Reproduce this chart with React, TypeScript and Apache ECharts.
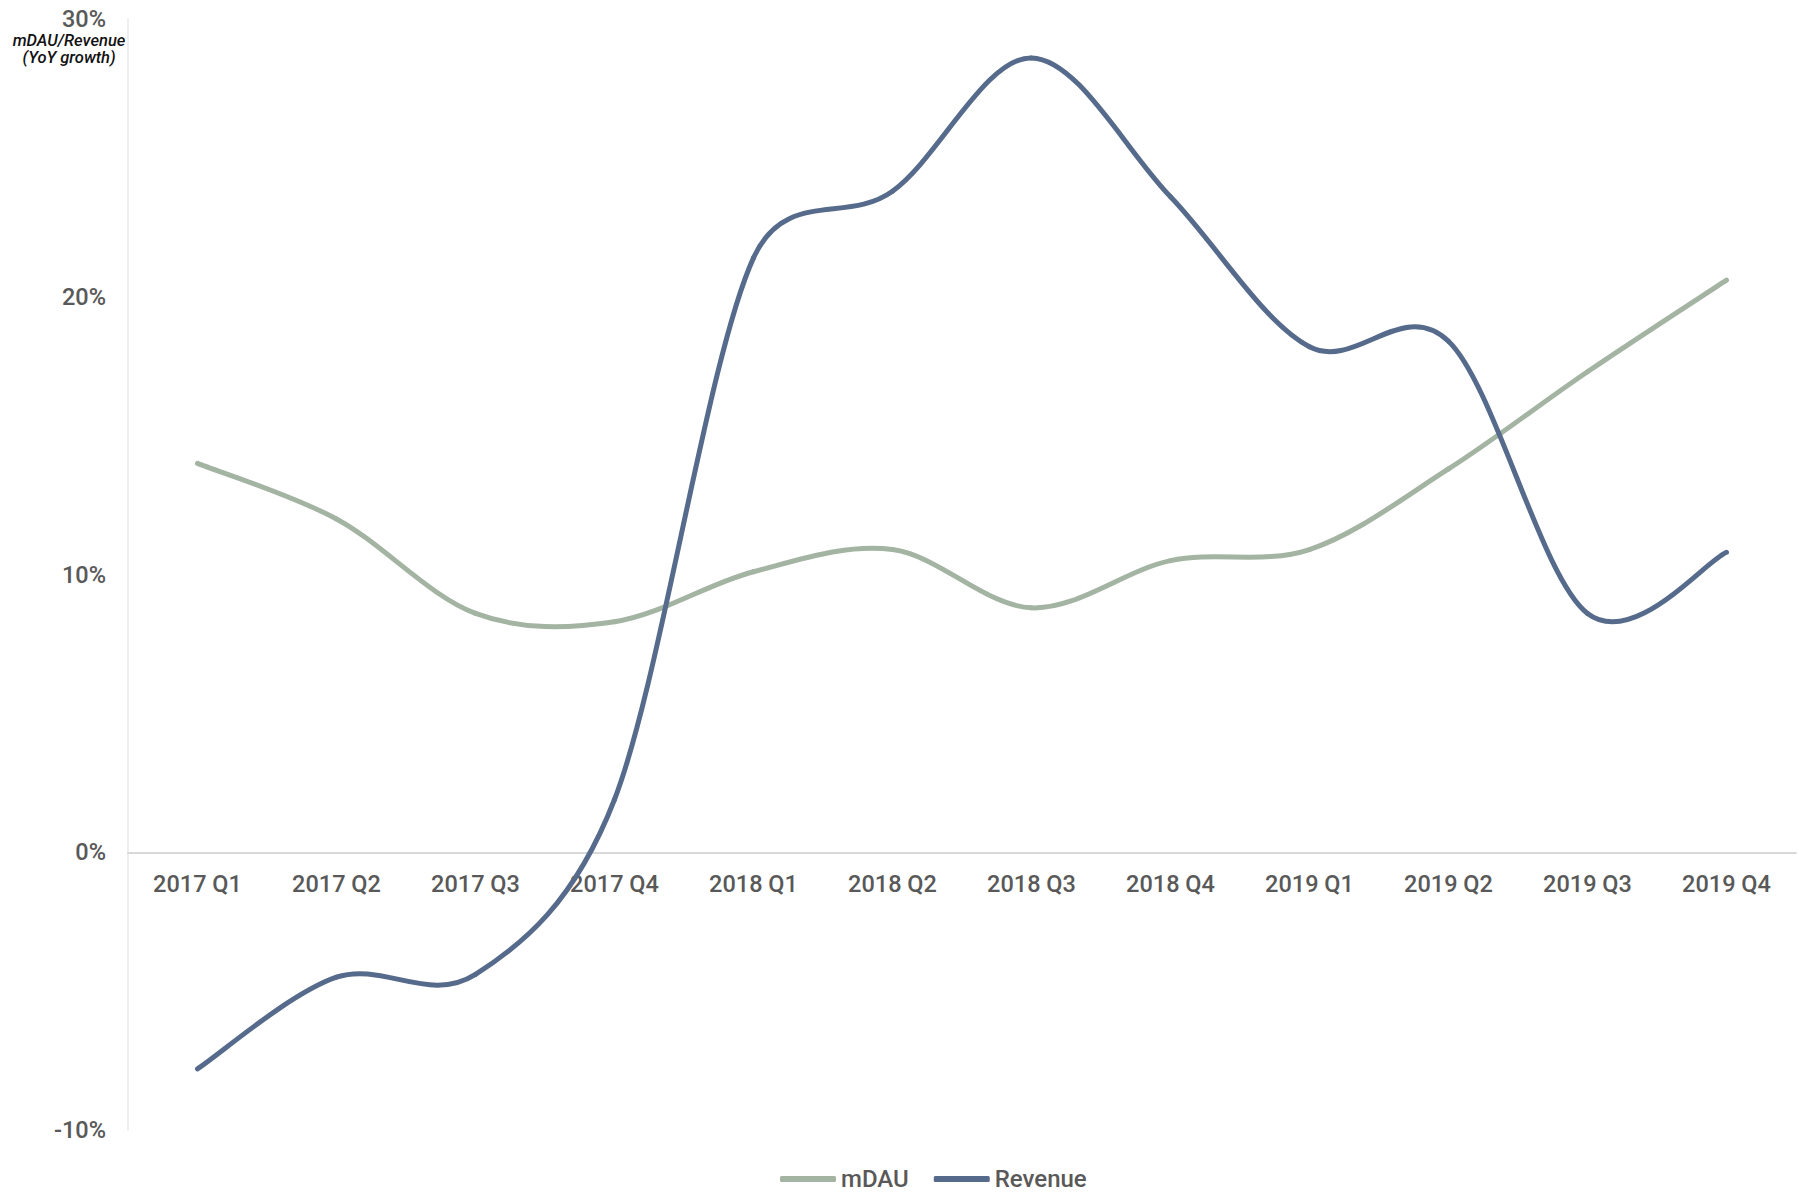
import React, { useEffect, useRef } from "react";
import * as echarts from "echarts";

const categories = [
  "2017 Q1", "2017 Q2", "2017 Q3", "2017 Q4",
  "2018 Q1", "2018 Q2", "2018 Q3", "2018 Q4",
  "2019 Q1", "2019 Q2", "2019 Q3", "2019 Q4",
];
const mdauGrowth = [14.0, 12.0, 8.6, 8.3, 10.1, 10.9, 8.8, 10.5, 10.9, 13.8, 17.3, 20.6];
const revenueGrowth = [-7.8, -4.5, -4.4, 1.9, 21.4, 23.8, 28.6, 23.6, 18.2, 18.4, 8.6, 10.8];
const seriesNames = ["mDAU", "Revenue"];
const seriesColors = ["#a4b4a2", "#566b8c"];
const yMin = -10;
const yMax = 30;
const yStep = 10;
const axisTitle = "mDAU/Revenue\n(YoY growth)";

// Spreadsheet-style smoothed line through the data points, drawn from the
// axis coordinates of each point (control arms limited to half a segment).
function makeRenderItem(values: number[], color: string) {
  const n = values.length;
  const clamp = (j: number) => Math.max(0, Math.min(n - 1, j));
  const arm = (a: number[], b: number[], segLen: number) => {
    let dx = (b[0] - a[0]) / 6;
    let dy = (b[1] - a[1]) / 6;
    const len = Math.hypot(dx, dy);
    if (len > segLen / 2 && len > 0) {
      const k = segLen / 2 / len;
      dx *= k;
      dy *= k;
    }
    return [dx, dy];
  };
  return (params: any, api: any) => {
    const i = params.dataIndex;
    if (i >= n - 1) return null;
    const pt = (j: number) => api.coord([clamp(j), values[clamp(j)]]);
    const p0 = pt(i - 1);
    const p1 = pt(i);
    const p2 = pt(i + 1);
    const p3 = pt(i + 2);
    const seg = Math.hypot(p2[0] - p1[0], p2[1] - p1[1]);
    const a1 = arm(p0, p2, seg);
    const a2 = arm(p1, p3, seg);
    return {
      type: "bezierCurve",
      shape: {
        x1: p1[0],
        y1: p1[1],
        cpx1: p1[0] + a1[0],
        cpy1: p1[1] + a1[1],
        cpx2: p2[0] - a2[0],
        cpy2: p2[1] - a2[1],
        x2: p2[0],
        y2: p2[1],
      },
      style: { fill: "none", stroke: color, lineWidth: 5, lineCap: "round" },
    };
  };
}

export default function App() {
  const ref = useRef<HTMLDivElement>(null);
  useEffect(() => {
    if (!ref.current) return;
    const chart = echarts.init(ref.current, null, { renderer: "svg" });
    const labelStyle = {
      color: "#595959",
      fontSize: 23.5,
      fontFamily: "Roboto",
      fontWeight: 500,
    };
    const gridTop = 19;
    const gridBottom = 62;
    const plotHeight = 1192 - gridTop - gridBottom;
    const zeroOffset = -plotHeight * ((0 - yMin) / (yMax - yMin));
    chart.setOption({
      animation: false,
      backgroundColor: "#ffffff",
      grid: { left: 128, right: 3, top: gridTop, bottom: gridBottom, containLabel: false },
      legend: {
        data: seriesNames,
        left: 780,
        top: 1167,
        padding: 0,
        icon: "roundRect",
        itemWidth: 56,
        itemHeight: 6,
        itemGap: 25,
        textStyle: { ...labelStyle, fontSize: 24, lineHeight: 22, padding: [0, 0, 0, 0] },
      },
      graphic: [
        {
          type: "text",
          x: 69,
          y: 32,
          style: {
            text: axisTitle,
            textAlign: "center",
            textVerticalAlign: "top",
            fill: "#111111",
            fontSize: 16.5,
            lineHeight: 17,
            fontStyle: "italic",
            fontWeight: 500,
            fontFamily: "Roboto",
          },
        },
      ],
      xAxis: {
        type: "category",
        data: categories,
        boundaryGap: true,
        offset: zeroOffset,
        axisLine: { show: true, onZero: false, lineStyle: { color: "#d9d9d9", width: 2 } },
        axisTick: { show: false },
        axisLabel: { ...labelStyle, margin: 20, interval: 0 },
        splitLine: { show: false },
      },
      yAxis: {
        type: "value",
        min: yMin,
        max: yMax,
        interval: yStep,
        axisLine: { show: true, lineStyle: { color: "#efefef", width: 2 } },
        axisTick: { show: false },
        splitLine: { show: false },
        axisLabel: { ...labelStyle, margin: 22, formatter: "{value}%" },
      },
      series: [
        {
          name: seriesNames[0],
          type: "custom",
          coordinateSystem: "cartesian2d",
          data: mdauGrowth.map((v, i) => [i, v]),
          encode: { x: 0, y: 1 },
          itemStyle: { color: seriesColors[0] },
          renderItem: makeRenderItem(mdauGrowth, seriesColors[0]),
        },
        {
          name: seriesNames[1],
          type: "custom",
          coordinateSystem: "cartesian2d",
          data: revenueGrowth.map((v, i) => [i, v]),
          encode: { x: 0, y: 1 },
          itemStyle: { color: seriesColors[1] },
          renderItem: makeRenderItem(revenueGrowth, seriesColors[1]),
        },
      ],
    });
    return () => chart.dispose();
  }, []);
  return (
    <div
      ref={ref}
      style={{ position: "absolute", left: 0, top: 0, width: 1799, height: 1192, background: "#ffffff" }}
    />
  );
}
